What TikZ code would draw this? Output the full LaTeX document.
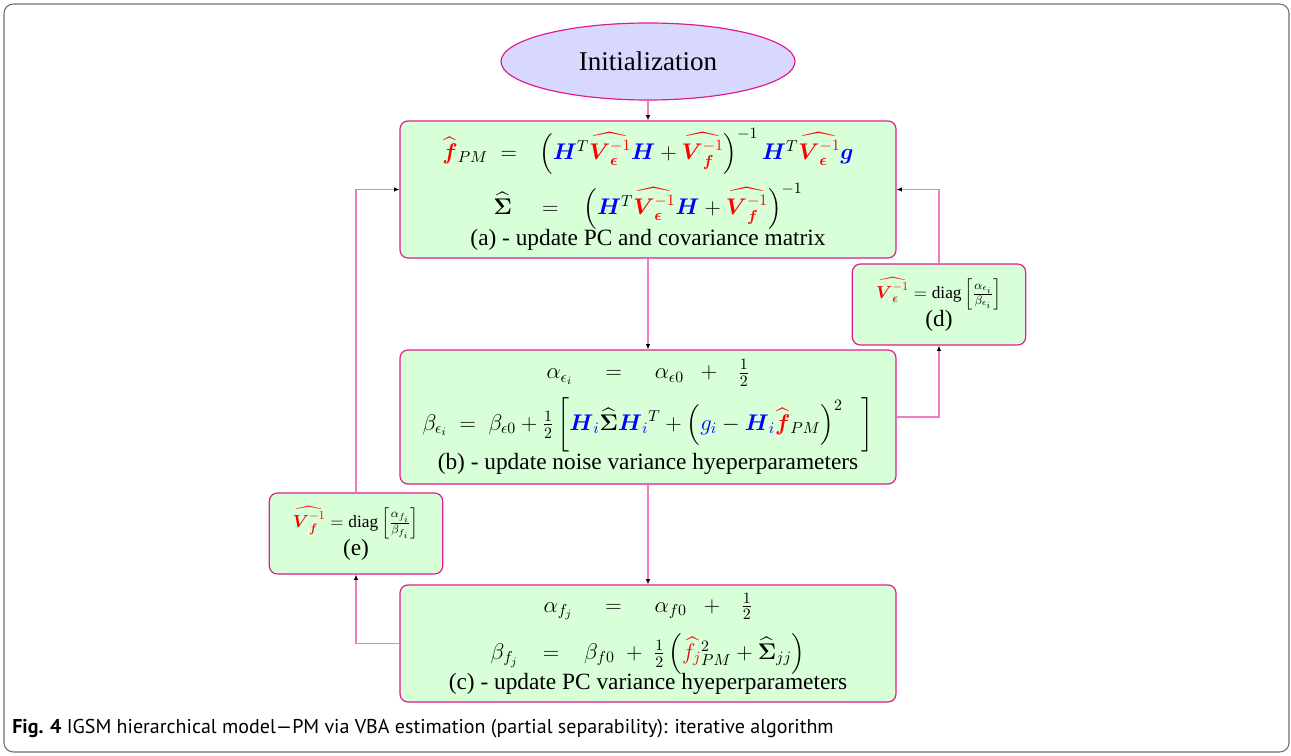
\documentclass[tikz,border=0pt]{standalone}
\usepackage{fix-cm}
\usepackage{amsmath}
\usepackage{amssymb}
\usepackage{fontspec}
\setmainfont{Liberation Serif}
\newfontfamily\capfont{PT Sans}
\usetikzlibrary{arrows.meta,shapes.geometric}

\definecolor{boxline}{RGB}{225,30,140}
\definecolor{linkline}{RGB}{240,125,195}
\definecolor{boxfill}{RGB}{216,255,216}
\definecolor{initfill}{RGB}{216,216,255}
\definecolor{framegray}{RGB}{110,110,110}

% coloured symbols
\newcommand{\bH}{{\color{blue}\boldsymbol{H}}}
\newcommand{\bg}{{\color{blue}\boldsymbol{g}}}
\newcommand{\Veps}{{\color{red}\widehat{\boldsymbol{V}_{\boldsymbol{\epsilon}}^{-1}}}}
\newcommand{\Vf}{{\color{red}\widehat{\boldsymbol{V}_{\boldsymbol{f}}^{-1}}}}
\newcommand{\fPM}{{\color{red}\widehat{\boldsymbol{f}}}_{PM}}
\newcommand{\hSig}{\widehat{\boldsymbol{\Sigma}}}
\newcommand{\mathsz}{\fontsize{17}{21}\selectfont}

\begin{document}
\begin{tikzpicture}[x=0.75pt,y=0.75pt,yscale=-1,xscale=1,
  stepbox/.style={draw=boxline,line width=0.9pt,fill=boxfill,rounded corners=6pt,
    align=center,inner sep=0pt,font=\fontsize{17.5}{21}\selectfont},
  smallbox/.style={stepbox,minimum width=130pt,minimum height=60.75pt},
  bigbox/.style={stepbox,minimum width=372pt},
  link/.style={draw=linkline,line width=1.1pt,-{Latex[black,length=4pt,width=3.5pt]}}]
\useasboundingbox (0,0) rectangle (1291,756);

%frame
\draw[framegray,line width=0.8pt,rounded corners=7pt] (4,4) rectangle (1289,752);

%start
\node[ellipse,draw=boxline,line width=0.9pt,fill=initfill,minimum width=220.5pt,
  minimum height=57.75pt,inner sep=0pt,font=\fontsize{20.3}{24}\selectfont] (init) at (648,61.5) {Initialization};

%(a)
\node[bigbox,minimum height=102.75pt] (upa) at (648,189.5) {%
  {\mathsz$\rule{0pt}{22pt}\fPM\;=\hspace{12pt}\left(\bH^T\Veps\bH+\Vf\right)^{-1}\bH^T\Veps\bg$}\\[6pt]
  {\mathsz$\hSig\hspace{18pt}=\hspace{14pt}\left(\bH^T\Veps\bH+\Vf\right)^{-1}$}\\[-1pt]
  (a) - update PC and covariance matrix};

%(d)
\node[smallbox] (upd) at (939,304.5) {%
  {\fontsize{13}{15}\selectfont$\Veps = \mathrm{diag}\left[\frac{\alpha_{\epsilon_i}}{\beta_{\epsilon_i}}\right]$}\\[0pt]
  (d)};

%(b)
\node[bigbox,minimum height=100.5pt] (upb) at (648,417) {%
  {\mathsz$\alpha_{\epsilon_i}\hspace{20pt}=\hspace{20pt}\alpha_{\epsilon0}\hspace{9pt}+\hspace{12pt}\tfrac{1}{2}$}\\[7pt]
  {\mathsz$\beta_{\epsilon_i} \;=\; \beta_{\epsilon0}+\tfrac{1}{2}\left[\bH_{\color{blue}i}\hSig\bH_{\color{blue}i}{}^T
    +\left({\color{blue}g_i}-\bH_{\color{blue}i}\fPM\right)^2\hspace{14pt}\right]$}\\[0pt]
  (b) - update noise variance hyeperparameters};

%(e)
\node[smallbox] (upe) at (356,533.5) {%
  {\fontsize{13}{15}\selectfont$\Vf = \mathrm{diag}\left[\frac{\alpha_{f_i}}{\beta_{f_i}}\right]$}\\[0pt]
  (e)};

%(c)
\node[bigbox,minimum height=87.75pt] (upc) at (648,643.5) {%
  {\mathsz$\alpha_{f_j}\hspace{20pt}=\hspace{20pt}\alpha_{f0}\hspace{9pt}+\hspace{12pt}\tfrac{1}{2}$}\\[9pt]
  {\mathsz$\beta_{f_j}\hspace{14pt}=\hspace{14pt}\beta_{f0}\;+\;\tfrac{1}{2}\left({\color{red}\widehat{f}_j}{}^2_{PM}+\hSig_{jj}\right)$}\\[-2pt]
  (c) - update PC variance hyeperparameters};

%links
\draw[link] (init) -- (upa);
\draw[link] (upa) -- (upb);
\draw[link] (upb) -- (upc);
\draw[link] (upb.east) -| (upd.south);
\draw[link] (upd.north) |- (upa.east);
\draw[link] (upc.west) -| (upe.south);
\draw[link] (upe.north) |- (upa.west);

%caption
\node[anchor=west,inner sep=0pt,font=\capfont\fontsize{15}{18}\selectfont] (cap) at (12,729)
  {\textbf{Fig. 4} IGSM hierarchical model\textemdash PM via VBA estimation (partial separability): iterative algorithm};
\end{tikzpicture}
\end{document}
